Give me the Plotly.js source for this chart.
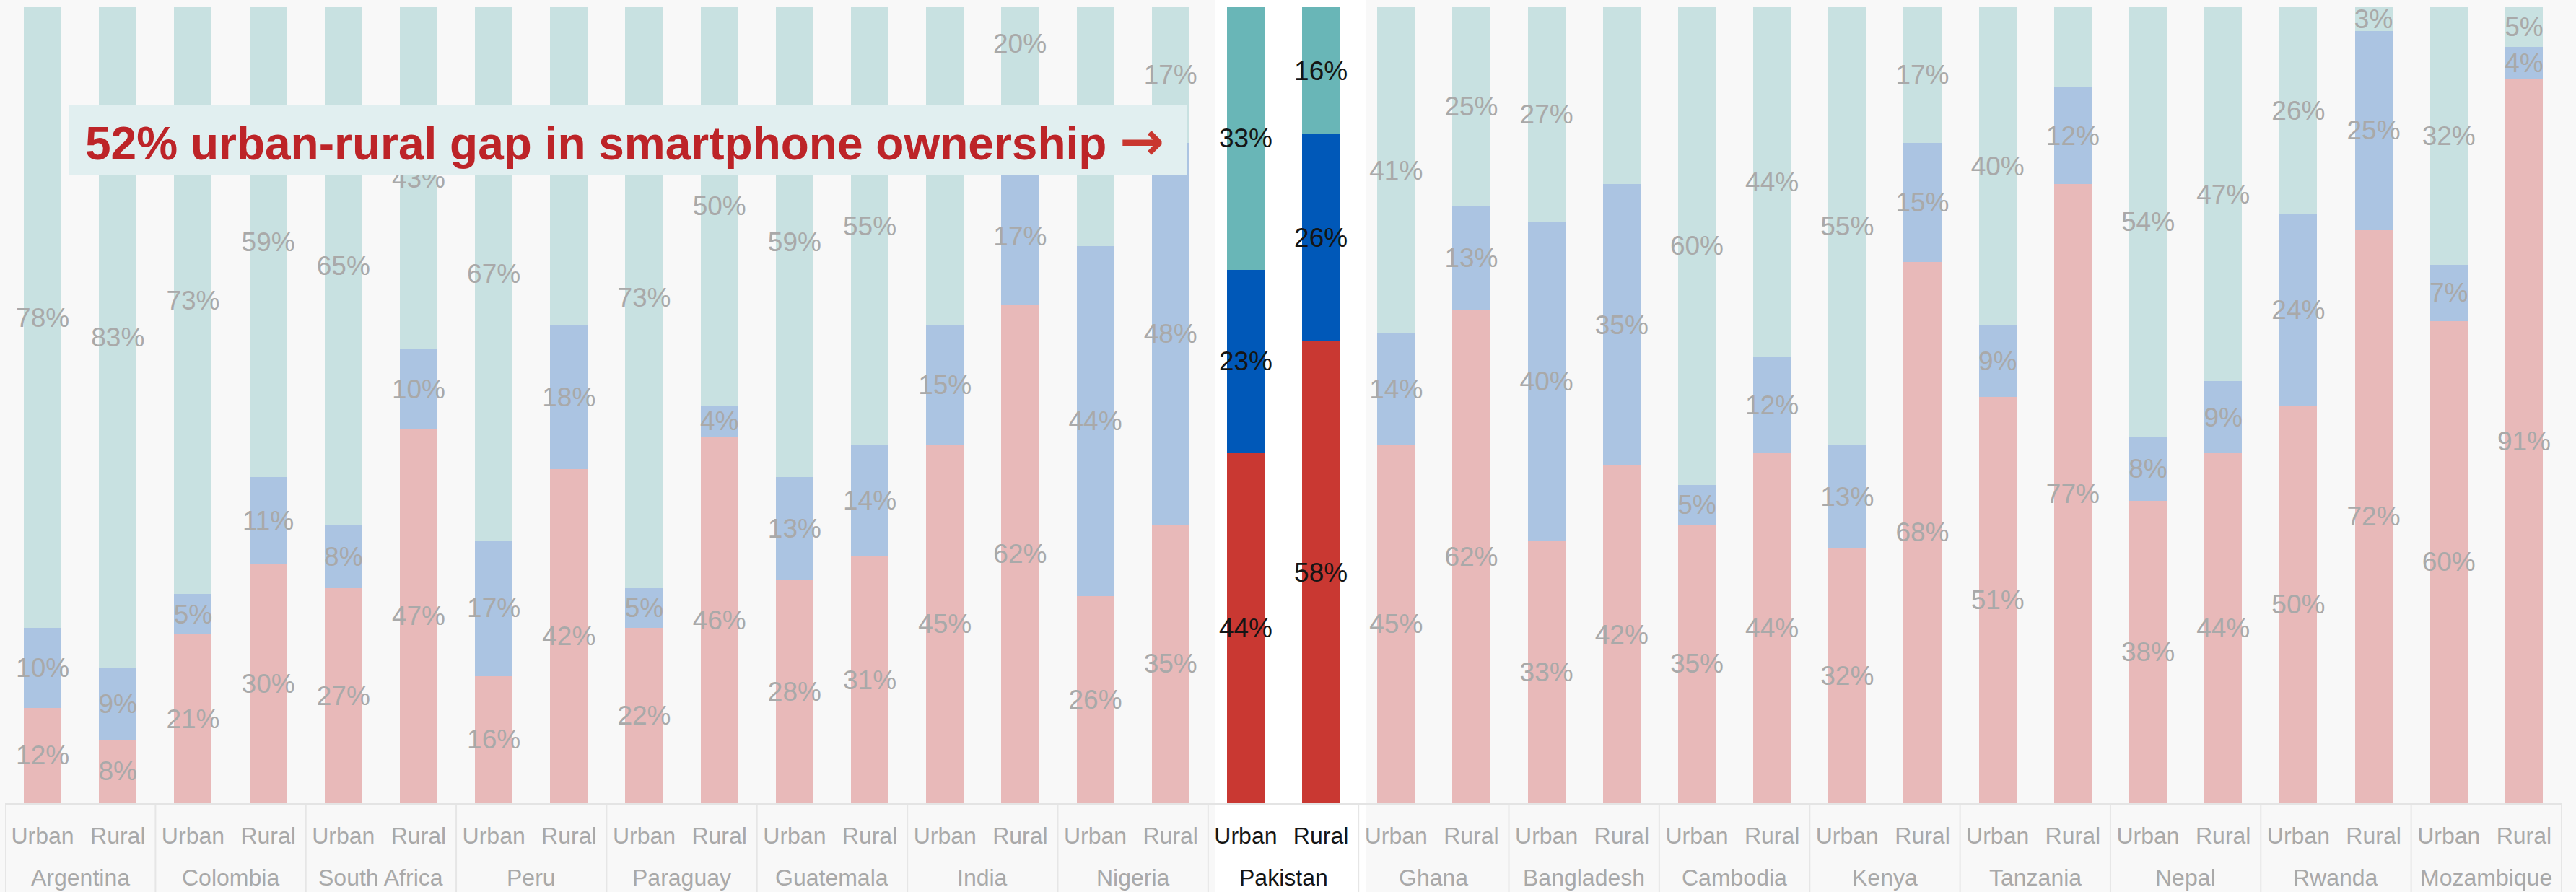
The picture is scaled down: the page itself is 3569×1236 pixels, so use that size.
<!DOCTYPE html>
<html>
<head>
<meta charset="utf-8">
<script src="https://cdn.plot.ly/plotly-3.0.1.min.js"></script>
<style>html,body{margin:0;padding:0;background:#f8f8f8;}#chart{width:3569px;height:1236px;}</style>
</head>
<body>
<div id="chart"></div>
<script>
// ---- Data ----
const countries = ["Argentina","Colombia","South Africa","Peru","Paraguay","Guatemala","India","Nigeria","Pakistan","Ghana","Bangladesh","Cambodia","Kenya","Tanzania","Nepal","Rwanda","Mozambique"];
const areas = ["Urban","Rural"];
// values per bar, in order: country1 Urban, country1 Rural, country2 Urban, ...
const noPhone    = [12,8, 21,30, 27,47, 16,42, 22,46, 28,31, 45,62, 26,35, 44,58, 45,62, 33,42, 35,44, 32,68, 51,77, 38,44, 50,72, 60,91];
const basicPhone = [10,9, 5,11, 8,10, 17,18, 5,4, 13,14, 15,17, 44,48, 23,26, 14,13, 40,35, 5,12, 13,15, 9,12, 8,9, 24,25, 7,4];
const smartphone = [78,83, 73,59, 65,43, 67,40, 73,50, 59,55, 40,20, 30,17, 33,16, 41,25, 27,22, 60,44, 55,17, 40,10, 54,47, 26,3, 32,5];
const highlight = "Pakistan";
const headline = "52% urban-rural gap in smartphone ownership";
// smartphone label that the reference lifts to the top of its bar (clear of the headline box)
const liftedLabel = { country: "India", area: "Rural" };

// ---- Build ----
const FONT = "Liberation Sans, Arial, Helvetica, sans-serif";
const GREY = "#a9a9a9", DARK = "#151515";
const xs = [], tickText = [], isHi = [];
countries.forEach((c, i) => areas.forEach((a, j) => {
  xs.push(2 * i + j);
  const hi = c === highlight;
  isHi.push(hi);
  tickText.push(hi ? `<span style="color:${DARK}">${a}</span>` : a);
}));
const hiIdx = countries.indexOf(highlight);
const liftIdx = 2 * countries.indexOf(liftedLabel.country) + areas.indexOf(liftedLabel.area);

function series(name, vals, faded, strong, skip) {
  return {
    type: "bar", name: name, x: xs, y: vals,
    marker: { color: isHi.map(h => h ? strong : faded), line: { width: 0 } },
    text: vals.map((v, k) => k === skip ? "" : v + "%"),
    textposition: "inside", insidetextanchor: "middle", textangle: 0,
    constraintext: "none", cliponaxis: false,
    textfont: { family: FONT, size: 37, color: isHi.map(h => h ? DARK : GREY) },
    hoverinfo: "skip", showlegend: false
  };
}
const traces = [
  series("No phone", noPhone, "#e8b9b9", "#c93832", -1),
  series("Basic phone", basicPhone, "#abc4e2", "#0058b8", -1),
  series("Smartphone", smartphone, "#c8e1e1", "#69b6b7", liftIdx)
];

const W = 3569, H = 1236, mL = 7, mR = 20, mT = 10, mB = 123;
const plotH = H - mT - mB, plotW = W - mL - mR;
const py = p => (H - mB - p) / plotH;      // pixel row -> paper y
const px = p => (p - mL) / plotW;          // pixel col -> paper x

const shapes = [];
// white band behind the highlighted country
shapes.push({ type: "rect", layer: "below", xref: "x", yref: "paper",
  x0: 2 * hiIdx - 0.41, x1: 2 * hiIdx + 1.6, y0: py(H), y1: py(0),
  fillcolor: "#ffffff", line: { width: 0 } });
// group dividers in the label area
for (let i = 0; i <= countries.length; i++) {
  shapes.push({ type: "line", layer: "above", xref: "x", yref: "paper",
    x0: 2 * i - 0.5, x1: 2 * i - 0.5, y0: py(H), y1: py(1115),
    line: { color: "#e6e6e6", width: 2 } });
}
// headline box
shapes.push({ type: "rect", layer: "above", xref: "paper", yref: "paper",
  x0: px(96), x1: px(1644), y0: py(243), y1: py(146),
  fillcolor: "#e1eff0", line: { width: 0 } });

const annotations = countries.map((c, i) => ({
  xref: "x", yref: "paper", x: 2 * i + 0.5, y: py(1216), yanchor: "middle", xanchor: "center",
  text: c, showarrow: false,
  font: { family: FONT, size: 32, color: c === highlight ? DARK : GREY }
}));
// lifted smartphone label
annotations.push({
  xref: "x", yref: "paper", x: xs[liftIdx], y: py(61), xanchor: "center", yanchor: "middle",
  showarrow: false, text: smartphone[liftIdx] + "%",
  font: { family: FONT, size: 37, color: GREY }
});
annotations.push({
  xref: "paper", yref: "paper", x: px(116), y: py(195), xanchor: "left", yanchor: "middle",
  showarrow: false,
  text: `<b>${headline}</b> <span style="color:#c9372f;font-family:'DejaVu Sans';font-size:74px"><b>→</b></span>`,
  font: { family: FONT, size: 64, color: "#bd2428" }
});

const layout = {
  width: W, height: H,
  margin: { l: mL, r: mR, t: mT, b: mB, pad: 0 },
  paper_bgcolor: "#f8f8f8", plot_bgcolor: "rgba(0,0,0,0)",
  barmode: "stack", barnorm: "percent", bargap: 0.5,
  font: { family: FONT },
  xaxis: {
    type: "linear", range: [-0.5, 2 * countries.length - 0.5],
    tickmode: "array", tickvals: xs, ticktext: tickText,
    tickfont: { family: FONT, size: 32, color: GREY },
    ticks: "", showgrid: false, zeroline: false,
    showline: true, linecolor: "#e4e4e4", linewidth: 2,
    ticklabelstandoff: 16, fixedrange: true
  },
  yaxis: { range: [0, 100], visible: false, showgrid: false, zeroline: false, fixedrange: true },
  shapes: shapes, annotations: annotations
};

Plotly.newPlot("chart", traces, layout, { displayModeBar: false, staticPlot: true });
</script>
</body>
</html>
